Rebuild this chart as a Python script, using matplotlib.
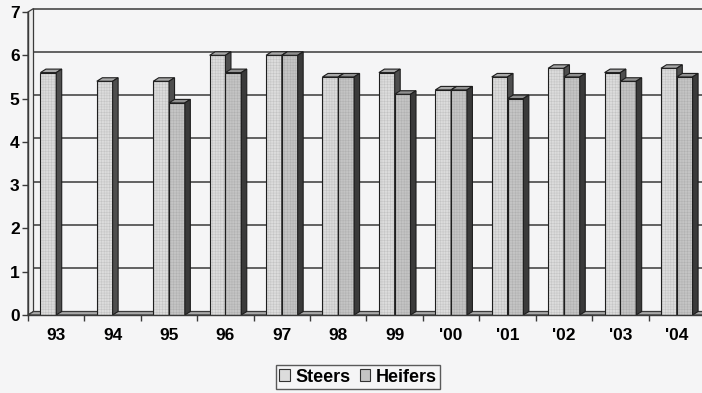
import numpy as np
import matplotlib
matplotlib.use("Agg")
import matplotlib.pyplot as plt
from matplotlib.patches import Polygon, Rectangle, Patch

# Data
years = ["93", "94", "95", "96", "97", "98", "99", "'00", "'01", "'02", "'03", "'04"]
steers = [5.6, 5.4, 5.4, 6.0, 6.0, 5.5, 5.6, 5.2, 5.5, 5.7, 5.6, 5.7]
heifers = [np.nan, np.nan, 4.9, 5.6, 6.0, 5.5, 5.1, 5.2, 5.0, 5.5, 5.4, 5.5]
y_ticks = [0, 1, 2, 3, 4, 5, 6, 7]

plt.rcParams["font.family"] = ["Liberation Sans", "DejaVu Sans"]
plt.rcParams["hatch.linewidth"] = 0.35

W, H = 702, 393
BG = "#f5f5f6"
fig = plt.figure(figsize=(W / 100, H / 100), dpi=100, facecolor=BG)
ax = fig.add_axes([28 / W, 78 / H, 677 / W, 303 / H])
ax.set_facecolor("none")

n = len(years)
ax.set_xlim(-0.5, n - 0.5)
ax.set_ylim(0, 7)

# 3-D depth expressed in data units
ax_w_px = 677
ax_h_px = 303
depth_x = 5.5 / (ax_w_px / n)
depth_y = 3.5 / (ax_h_px / 7)

x0, x1 = -0.5, n - 0.5
line_c = "#3a3a3a"

# back wall gridlines
for v in y_ticks[1:]:
    ax.plot([x0 + depth_x, x1 + depth_x], [v + depth_y, v + depth_y],
            color=line_c, lw=1.1, zorder=1, clip_on=False)
# left wall
ax.add_patch(Polygon([(x0, 0), (x0 + depth_x, depth_y), (x0 + depth_x, 7 + depth_y), (x0, 7)],
                     closed=True, facecolor="#ededed", edgecolor=line_c, lw=0.9,
                     zorder=1, clip_on=False))
# floor
ax.add_patch(Polygon([(x0, 0), (x1, 0), (x1 + depth_x, depth_y), (x0 + depth_x, depth_y)],
                     closed=True, facecolor="#a8a8a8", edgecolor=line_c, lw=0.9,
                     zorder=1.5, clip_on=False))

bw = 0.28
x = np.arange(n)
styles = {
    "steers": dict(front="#dcdcdc", hatch_c="#c3c3c3", hatch="++++++", top="#a9a9a9", side="#4e4e4e"),
    "heifers": dict(front="#c4c4c4", hatch_c="#b0b0b0", hatch="++++++", top="#909090", side="#3a3a3a"),
}

z = 2
for i in range(n):
    for key, vals, off in (("steers", steers, -bw), ("heifers", heifers, 0.0)):
        h = vals[i]
        if np.isnan(h):
            continue
        s = styles[key]
        bx = x[i] + off
        ax.bar(bx, h, width=bw, align="edge", color=s["front"], edgecolor=s["hatch_c"],
               hatch=s["hatch"], linewidth=0, zorder=z)
        ax.add_patch(Rectangle((bx, 0), bw, h, fill=False, edgecolor="#1e1e1e", lw=0.8, zorder=z + 0.1))
        ax.add_patch(Polygon([(bx, h), (bx + bw, h), (bx + bw + depth_x, h + depth_y), (bx + depth_x, h + depth_y)],
                             closed=True, facecolor=s["top"], edgecolor="#1e1e1e", lw=0.8, zorder=z + 0.2))
        ax.add_patch(Polygon([(bx + bw, 0), (bx + bw + depth_x, depth_y), (bx + bw + depth_x, h + depth_y), (bx + bw, h)],
                             closed=True, facecolor=s["side"], edgecolor="#1e1e1e", lw=0.8, zorder=z + 0.2))
        z += 1

# axes styling
for sp in ("top", "right"):
    ax.spines[sp].set_visible(False)
for sp in ("left", "bottom"):
    ax.spines[sp].set_color(line_c)
    ax.spines[sp].set_linewidth(1.0)
    ax.spines[sp].set_zorder(50)

ax.set_yticks(y_ticks)
ax.set_yticklabels([str(v) for v in y_ticks], fontsize=12.5, fontweight="bold")
ax.tick_params(axis="y", direction="out", length=4, width=1, color=line_c, pad=2)

ax.set_xticks(np.arange(n + 1) - 0.5, minor=False)
ax.set_xticklabels([])
ax.set_xticks(x, minor=True)
ax.set_xticklabels(years, minor=True, fontsize=12.5, fontweight="bold")
ax.tick_params(axis="x", which="major", direction="out", length=4, width=1, color=line_c)
ax.tick_params(axis="x", which="minor", length=0, pad=9)

handles = [Patch(facecolor=styles["steers"]["front"], edgecolor="#333333", lw=0.8),
           Patch(facecolor=styles["heifers"]["front"], edgecolor="#333333", lw=0.8)]
leg = fig.legend(handles, ["Steers", "Heifers"], loc="center", bbox_to_anchor=(358 / W, 1 - 377 / H),
                 ncol=2, frameon=True, fancybox=False, edgecolor="#333333",
                 prop=dict(weight="bold", size=13), handlelength=0.6, handleheight=0.6,
                 handletextpad=0.3, columnspacing=0.5, borderpad=0.2)
leg.get_frame().set_linewidth(1.0)
leg.get_frame().set_facecolor(BG)

fig.savefig("out.png", dpi=100, facecolor=BG)
